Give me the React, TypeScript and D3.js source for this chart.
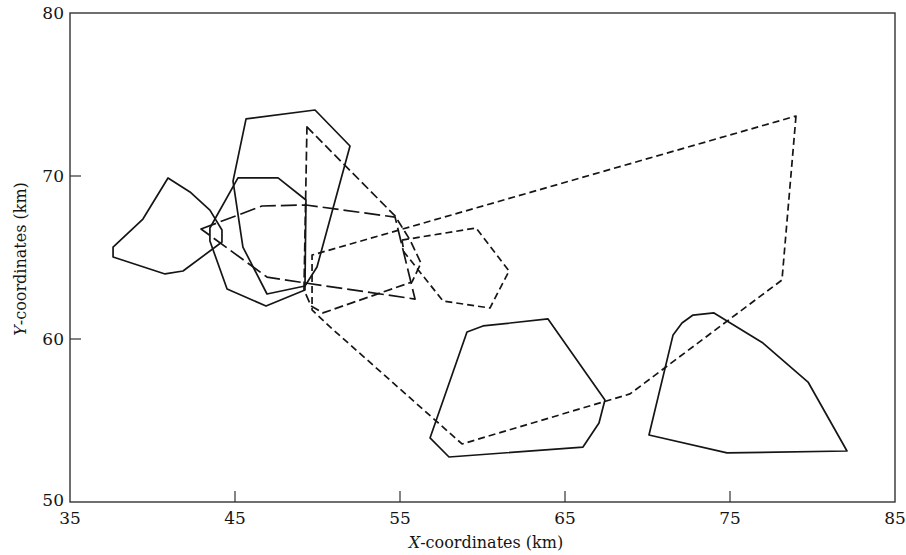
import React from "react";
import * as d3 from "d3";

// Axis ticks
const xTickValues = [35, 45, 55, 65, 75, 85];
const yTickValues = [50, 60, 70, 80];
const xTickLabels = ["35", "45", "55", "65", "75", "85"];
const yTickLabels = ["50", "60", "70", "80"];

// Polygons: [x km, y km]
const solidLeft: [number, number][] = [
  [40.94, 69.88], [42.27, 69.02], [43.48, 67.91], [44.21, 66.69], [44.21, 65.95],
  [41.85, 64.17], [40.76, 63.99], [37.61, 65.03], [37.61, 65.64], [39.42, 67.36],
];
const solidTop: [number, number][] = [
  [45.67, 73.5], [49.85, 74.05], [51.97, 71.84], [49.97, 64.42], [49.24, 63.25],
  [46.94, 62.76], [45.48, 65.64], [44.88, 69.69],
];
const solidMid: [number, number][] = [
  [45.18, 69.88], [47.61, 69.88], [49.3, 68.53], [49.24, 63.01], [46.88, 62.02],
  [44.52, 63.07], [43.48, 66.01], [43.48, 66.81],
];
const solidBottom: [number, number][] = [
  [59.06, 60.43], [60.03, 60.8], [63.97, 61.23], [67.42, 56.26], [67.06, 54.85],
  [66.09, 53.37], [57.97, 52.76], [56.82, 53.93],
];
const solidRight: [number, number][] = [
  [71.55, 60.25], [72.09, 60.98], [72.76, 61.47], [74.03, 61.6], [77.0, 59.75],
  [79.73, 57.36], [82.09, 53.13], [74.82, 53.01], [70.09, 54.11],
];
const longDash: [number, number][] = [
  [42.94, 66.75], [46.64, 68.16], [49.3, 68.22], [54.7, 67.48], [55.91, 62.45],
  [49.24, 63.44], [46.94, 63.8],
];
const dashTri: [number, number][] = [
  [49.36, 73.01], [54.7, 67.55], [55.61, 66.07], [56.27, 64.66], [55.73, 63.5],
  [50.33, 61.6], [49.61, 62.02], [49.18, 63.01],
];
const dashPent: [number, number][] = [
  [55.12, 66.07], [59.61, 66.81], [61.61, 64.17], [60.45, 61.9], [57.61, 62.33],
  [55.24, 65.34],
];
const dashBig: [number, number][] = [
  [79.0, 73.68], [78.15, 63.62], [68.94, 56.63], [58.76, 53.56], [50.76, 60.74],
  [49.67, 61.78], [49.67, 65.15],
];

const series = [
  { pts: solidLeft, dash: "" },
  { pts: solidTop, dash: "" },
  { pts: solidMid, dash: "" },
  { pts: solidBottom, dash: "" },
  { pts: solidRight, dash: "" },
  { pts: longDash, dash: "16,5" },
  { pts: dashTri, dash: "9,4" },
  { pts: dashPent, dash: "7,4" },
  { pts: dashBig, dash: "7,4" },
];

export default function App() {
  const W = 906, H = 555;
  const left = 70, right = 895, top = 13, bottom = 502;
  const x = d3.scaleLinear().domain([35, 85]).range([left, right]);
  const y = d3.scaleLinear().domain([50, 80]).range([bottom, top]);
  const line = d3
    .line<[number, number]>()
    .x((d) => x(d[0]))
    .y((d) => y(d[1]))
    .curve(d3.curveLinearClosed);
  const ink = "#151515";
  const font = "'DejaVu Serif', serif";
  return (
    <svg
      width={W}
      height={H}
      style={{ position: "absolute", left: 0, top: 0, background: "#fff" }}
    >
      <rect x={0} y={0} width={W} height={H} fill="#fff" />
      <rect
        x={left}
        y={top}
        width={right - left}
        height={bottom - top}
        fill="none"
        stroke="#333"
        strokeWidth={1.4}
      />
      {xTickValues.slice(1, -1).map((v) => (
        <line key={"xt" + v} x1={x(v)} x2={x(v)} y1={bottom} y2={bottom - 11} stroke="#333" strokeWidth={1.2} />
      ))}
      {yTickValues.slice(1, -1).map((v) => (
        <line key={"yt" + v} x1={left} x2={left + 11} y1={y(v)} y2={y(v)} stroke="#333" strokeWidth={1.2} />
      ))}
      {xTickValues.map((v, i) => (
        <text key={"xl" + v} x={x(v)} y={524} textAnchor="middle" fontFamily={font} fontSize={17} fill={ink}>
          {xTickLabels[i]}
        </text>
      ))}
      {yTickValues.map((v, i) => (
        <text
          key={"yl" + v}
          x={64}
          y={v === 50 ? y(v) + 4 : y(v) + 6}
          textAnchor="end"
          fontFamily={font}
          fontSize={17}
          fill={ink}
        >
          {yTickLabels[i]}
        </text>
      ))}
      <text x={486} y={548} textAnchor="middle" fontFamily={font} fontSize={16} fill={ink}>
        <tspan fontStyle="italic">X</tspan>-coordinates (km)
      </text>
      <text
        transform={`translate(26,259) rotate(-90)`}
        textAnchor="middle"
        fontFamily={font}
        fontSize={16}
        fill={ink}
      >
        <tspan fontStyle="italic">Y</tspan>-coordinates (km)
      </text>
      {series.map((s, i) => (
        <path
          key={"p" + i}
          d={line(s.pts) || ""}
          fill="none"
          stroke={ink}
          strokeWidth={1.7}
          strokeDasharray={s.dash || undefined}
          strokeLinejoin="round"
        />
      ))}
    </svg>
  );
}
